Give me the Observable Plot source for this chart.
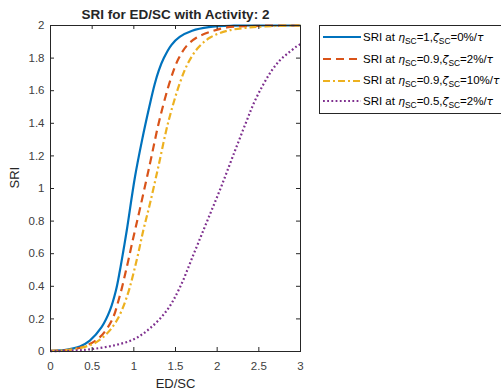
<!DOCTYPE html>
<html>
<head>
<meta charset="utf-8">
<script src="https://cdn.jsdelivr.net/npm/d3@7"></script>
<script src="https://cdn.jsdelivr.net/npm/@observablehq/plot@0.6"></script>
<style>
  html, body { margin: 0; padding: 0; background: #fff; overflow: hidden; }
  #wrap { position: relative; width: 501px; height: 392px; font-family: "Liberation Sans", Arial, Helvetica, sans-serif; }
  #legend { position: absolute; left: 319px; top: 25px; width: 200px; height: 89px; border: 1px solid #262626; background: #fff; box-sizing: border-box; }
  .row { position: absolute; left: 2px; height: 20px; display: flex; align-items: center; font-size: 11.5px; color: #000; white-space: nowrap; }
  .row svg { margin-right: 2px; }
  .row sub { font-size: 8.4px; vertical-align: -3px; line-height: 0; }
  .row i { font-family: "DejaVu Sans", sans-serif; font-size: 10.8px; }
</style>
</head>
<body>
<div id="wrap"></div>
<script>
// ---- data ----
const seriesNames = [
  "SRI at ηSC=1,ζSC=0%/τ",
  "SRI at ηSC=0.9,ζSC=2%/τ",
  "SRI at ηSC=0.9,ζSC=10%/τ",
  "SRI at ηSC=0.5,ζSC=2%/τ"
];
const xBlue = [0, 0.2, 0.352, 0.472, 0.613, 0.713, 0.785, 0.833, 0.875, 0.915, 1.013, 1.1, 1.185, 1.25, 1.3, 1.36, 1.45, 1.55, 1.7, 1.9, 2.2, 2.6, 3];
const yBlue = [0.004, 0.012, 0.031, 0.067, 0.149, 0.252, 0.374, 0.497, 0.62, 0.742, 1.069, 1.3, 1.5, 1.64, 1.725, 1.8, 1.88, 1.93, 1.968, 1.99, 1.999, 2, 2];
const xRed = [0, 0.25, 0.433, 0.593, 0.735, 0.827, 0.915, 0.995, 1.073, 1.193, 1.306, 1.442, 1.534, 1.634, 1.755, 1.915, 2.115, 2.5, 3];
const yRed = [0.004, 0.012, 0.037, 0.088, 0.19, 0.333, 0.517, 0.701, 0.875, 1.151, 1.417, 1.671, 1.794, 1.875, 1.926, 1.961, 1.988, 1.998, 2];
const xYellow = [0, 0.25, 0.513, 0.675, 0.795, 0.915, 1.033, 1.113, 1.193, 1.293, 1.413, 1.554, 1.654, 1.774, 1.915, 2.115, 2.395, 2.7, 3];
const yYellow = [0.004, 0.012, 0.047, 0.109, 0.19, 0.333, 0.558, 0.742, 0.906, 1.131, 1.407, 1.65, 1.773, 1.865, 1.926, 1.967, 1.988, 1.997, 2];
const xPurple = [0, 0.3, 0.5, 0.75, 1.0, 1.2, 1.4, 1.55, 1.72, 1.88, 2.04, 2.19, 2.35, 2.45, 2.55, 2.65, 2.75, 2.85, 2.95, 3];
const yPurple = [0.002, 0.006, 0.015, 0.036, 0.075, 0.145, 0.255, 0.39, 0.6, 0.8, 1.0, 1.2, 1.41, 1.535, 1.635, 1.72, 1.785, 1.83, 1.87, 1.886];
const xTicks = [0, 0.5, 1, 1.5, 2, 2.5, 3];
const yTicks = [0, 0.2, 0.4, 0.6, 0.8, 1, 1.2, 1.4, 1.6, 1.8, 2];
const titleText = "SRI for ED/SC with Activity: 2";
const xLabel = "ED/SC";
const yLabel = "SRI";

// ---- build ----
const colors = ["#0072BD", "#D95319", "#EDB120", "#7E2F8E"];
const dashes = [null, "8,5", "7,3,2,3", "1.8,2.4"];
const xs = [xBlue, xRed, xYellow, xPurple];
const ys = [yBlue, yRed, yYellow, yPurple];
const seriesData = xs.map((xa, i) => xa.map((x, j) => ({x, y: ys[i][j], s: i})));

const W = 501, H = 392, mL = 50, mR = 201, mT = 25, mB = 41;
const innerH = H - mT - mB, innerW = W - mL - mR;
const axisColor = "#262626";

const chart = Plot.plot({
  width: W, height: H,
  marginLeft: mL, marginRight: mR, marginTop: mT, marginBottom: mB,
  style: {fontFamily: "'Liberation Sans', Arial, Helvetica, sans-serif", fontSize: "11px", color: axisColor, background: "#fff"},
  x: {domain: [0, 3]},
  y: {domain: [0, 2]},
  marks: [
    ...seriesData.map((d, i) => Plot.line(d, {
      x: "x", y: "y", stroke: colors[i], strokeWidth: 2.2,
      strokeDasharray: dashes[i], strokeLinecap: "butt", curve: "catmull-rom"
    })),
    Plot.frame({stroke: axisColor, strokeWidth: 1}),
    Plot.tickX(xTicks, {x: d => d, stroke: axisColor, insetTop: innerH - 4}),
    Plot.tickX(xTicks, {x: d => d, stroke: axisColor, insetBottom: innerH - 4}),
    Plot.tickY(yTicks, {y: d => d, stroke: axisColor, insetRight: innerW - 4}),
    Plot.tickY(yTicks, {y: d => d, stroke: axisColor, insetLeft: innerW - 4}),
    Plot.axisX({ticks: xTicks, tickSize: 0, tickPadding: 10, tickFormat: d => String(d), label: null, fontSize: 11.5, fill: "#404040"}),
    Plot.axisY({ticks: yTicks, tickSize: 0, tickPadding: 6, tickFormat: d => String(d), label: null, fontSize: 11.5, fill: "#404040"}),
    Plot.text([xLabel], {text: d => d, frameAnchor: "bottom", lineAnchor: "top", dy: 27, fontSize: 13, fill: "#262626"}),
    Plot.text([yLabel], {text: d => d, frameAnchor: "left", rotate: -90, dx: -36, fontSize: 13, fill: "#262626"}),
    Plot.text([titleText], {text: d => d, frameAnchor: "top", lineAnchor: "middle", dy: -11, fontSize: 13.5, fontWeight: "bold", fill: "#262626"})
  ]
});

const wrap = document.getElementById("wrap");
wrap.appendChild(chart);

// ---- legend ----
const legend = document.createElement("div");
legend.id = "legend";
const labelsHTML = [
  'SRI at <i>η</i><sub>SC</sub>=1,<i>ζ</i><sub>SC</sub>=0%/<i>τ</i>',
  'SRI at <i>η</i><sub>SC</sub>=0.9,<i>ζ</i><sub>SC</sub>=2%/<i>τ</i>',
  'SRI at <i>η</i><sub>SC</sub>=0.9,<i>ζ</i><sub>SC</sub>=10%/<i>τ</i>',
  'SRI at <i>η</i><sub>SC</sub>=0.5,<i>ζ</i><sub>SC</sub>=2%/<i>τ</i>'
];
const rowCenters = [11, 33, 54.5, 75];
labelsHTML.forEach((html, i) => {
  const row = document.createElement("div");
  row.className = "row";
  row.style.top = (rowCenters[i] - 10) + "px";
  row.title = seriesNames[i];
  row.innerHTML = `<svg width="39" height="6"><line x1="1" y1="3" x2="39" y2="3" stroke="${colors[i]}" stroke-width="2.2" ${dashes[i] ? `stroke-dasharray="${dashes[i]}"` : ""}/></svg><span>${html}</span>`;
  legend.appendChild(row);
});
wrap.appendChild(legend);
</script>
</body>
</html>
